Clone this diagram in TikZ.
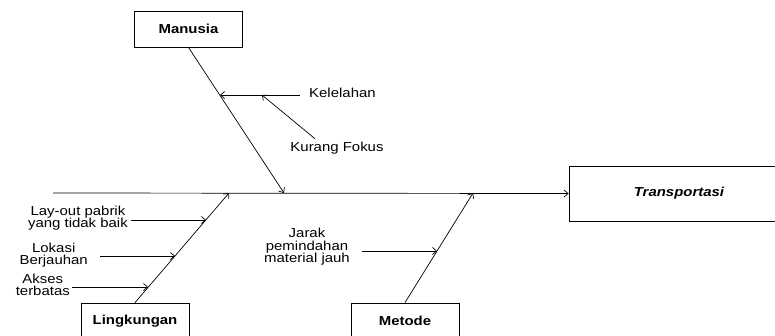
\documentclass[tikz,border=0pt]{standalone}
\usepackage{fontspec}
\setmainfont{Liberation Sans}[FakeStretch=1.15]
\usetikzlibrary{arrows.meta, positioning}

\begin{document}
\begin{tikzpicture}[
    x=1pt, y=-1pt,
    box/.style={rectangle, draw, line width=0.8pt, minimum width=108pt, minimum height=36pt,
        font=\fontsize{13}{14}\selectfont\bfseries},
    cause/.style={align=center, inner sep=1pt, font=\fontsize{13}{12.5}\selectfont},
    arrow/.style={-{Straight Barb[length=4pt,width=7pt]}, line width=0.7pt}
]
    \useasboundingbox (0,0) rectangle (775,335);
    \clip (0,0) rectangle (775,335);

    % main boxes
    \node[box] (manusia) at (188.5,29) {Manusia};
    \node[box] (lingkungan) at (135,321) {Lingkungan};
    \node[box] (metode) at (405,321) {Metode};
    \node[box, minimum width=220pt, minimum height=55pt, font=\fontsize{13}{14}\selectfont\bfseries\itshape]
        (transportasi) at (679,193.5) {Transportasi};

    % spine
    \coordinate (tail) at (53,193);
    \coordinate (jm) at (284,193);
    \coordinate (jl) at (229,193);
    \coordinate (jt) at (473,193);
    \draw[arrow] (tail) -- (transportasi.west);
    \draw[arrow] (manusia.south) -- (jm);
    \draw[arrow] (lingkungan.north) -- (jl);
    \draw[arrow] (metode.north) -- (jt);

    % causes
    \node[cause, anchor=west] (kelelahan) at (308,93) {Kelelahan};
    \node[cause] (fokus) at (337,148) {Kurang Fokus};
    \node[cause, anchor=east] (layout) at (129,218) {Lay-out pabrik\\yang tidak baik};
    \node[cause, anchor=east] (lokasi) at (89,255) {Lokasi\\Berjauhan};
    \node[cause, anchor=east] (akses) at (71,285) {Akses\\terbatas};
    \node[cause, anchor=east] (jarak) at (351,247) {Jarak\\pemindahan\\material jauh};

    \coordinate (pk) at (220,95);
    \coordinate (pf) at (262,95);
    \coordinate (p1) at (206,220);
    \coordinate (p2) at (175,256);
    \coordinate (p3) at (148,287);
    \coordinate (p4) at (437,251);

    \draw[arrow] ([xshift=-8pt,yshift=-2pt]kelelahan.west) -- (pk);
    \draw[arrow] ([xshift=-22pt,yshift=2pt]fokus.north) -- (pf);
    \draw[arrow] ([xshift=2pt,yshift=-2pt]layout.east) -- (p1);
    \draw[arrow] ([xshift=11pt,yshift=-1pt]lokasi.east) -- (p2);
    \draw[arrow] ([xshift=1pt,yshift=-2pt]akses.east) -- (p3);
    \draw[arrow] ([xshift=11pt,yshift=-4pt]jarak.east) -- (p4);
\end{tikzpicture}
\end{document}
